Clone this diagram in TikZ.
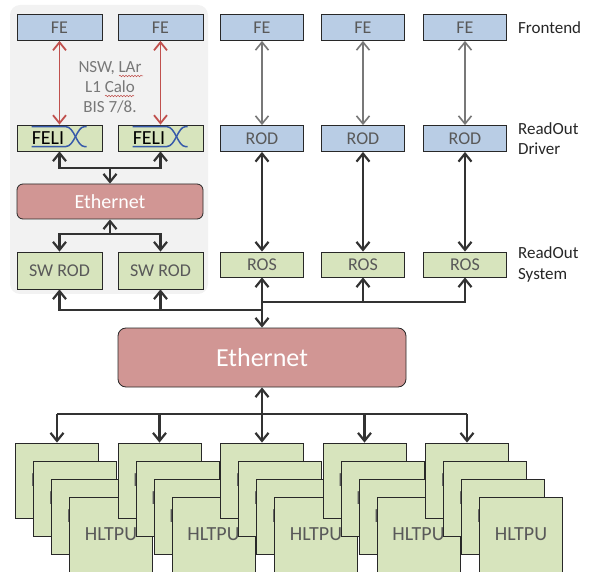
\documentclass[tikz,border=0pt]{standalone}
\usepackage{fontspec}
\setmainfont{Carlito}
\usetikzlibrary{arrows.meta, positioning, decorations.pathmorphing}

\definecolor{feblue}{RGB}{185,205,229}
\definecolor{rosgreen}{RGB}{215,228,189}
\definecolor{ethpink}{RGB}{209,150,148}
\definecolor{bggray}{RGB}{242,242,242}
\definecolor{boxline}{RGB}{40,40,40}
\definecolor{txtgray}{RGB}{89,89,89}
\definecolor{darkline}{RGB}{50,50,50}
\definecolor{midline}{RGB}{120,120,120}
\definecolor{redline}{RGB}{192,80,77}
\definecolor{felixblue}{RGB}{55,90,170}

\begin{document}
\begin{tikzpicture}[
    x=1pt, y=-1pt,
    >={Straight Barb[length=8pt, width=13pt]},
    box/.style={rectangle, draw=boxline, line width=0.8pt, text=txtgray, inner sep=0pt, font=\fontsize{18}{20}\selectfont},
    blubox/.style={box, fill=feblue, minimum width=83, minimum height=26},
    grnbox/.style={box, fill=rosgreen},
    ethbox/.style={rectangle, draw=boxline, line width=0.8pt, fill=ethpink, text=white, rounded corners=6pt},
    hltbox/.style={grnbox, minimum width=83, minimum height=75, font=\fontsize{20}{24}\selectfont},
    lbl/.style={align=left, text=black!85, inner sep=0pt, font=\fontsize{17}{20.5}\selectfont},
    dkline/.style={draw=darkline, line width=2.2pt},
    dkarrow/.style={dkline, <->},
    gyarrow/.style={draw=midline, line width=1.6pt, <->},
    rdarrow/.style={draw=redline, line width=1.8pt, <->}
]
\useasboundingbox (0,0) rectangle (592,572);

% Grey region for the new readout
\fill[bggray, rounded corners=10pt] (10,5) rectangle (208,294);

% Frontends
\node[blubox, minimum width=85] (feA) at (59.5,27.5) {FE};
\node[blubox, minimum width=85] (feB) at (160.5,27.5) {FE};
\node[blubox] (fe1) at (262,27.5) {FE};
\node[blubox] (fe2) at (363,27.5) {FE};
\node[blubox] (fe3) at (465,27.5) {FE};

% FELIX and ROD
\node[grnbox, minimum width=85, minimum height=26] (felA) at (59.5,138) {};
\node[grnbox, minimum width=85, minimum height=26] (felB) at (160.5,138) {};
\node[blubox] (rod1) at (262,138.5) {ROD};
\node[blubox] (rod2) at (363,138.5) {ROD};
\node[blubox] (rod3) at (465,138.5) {ROD};

\foreach \f in {felA,felB}{
  \begin{scope}[shift={(\f.north west)}]
    \draw[felixblue, line width=1.5pt] (15,2) -- (49,2) .. controls (58,2) and (60,22) .. (68,22) -- (70,22);
    \draw[felixblue, line width=1.5pt] (15,22) -- (49,22) .. controls (58,22) and (60,2) .. (68,2) -- (70,2);
    \node[anchor=base west, inner sep=0pt, font=\fontsize{20}{22}\selectfont] (\f-txt) at (15,19.5) {FELI};
  \end{scope}
}

% Note
\node[align=center, text=midline, font=\fontsize{17}{20}\selectfont] (note) at (110,87) {NSW, LAr\\L1 Calo\\BIS 7/8.};
\draw[redline, line width=0.5pt, decorate, decoration={snake, amplitude=0.8pt, segment length=3pt}] (119,76) -- (143,76);
\draw[redline, line width=0.5pt, decorate, decoration={snake, amplitude=0.8pt, segment length=3pt}] (105,96) -- (134,96);

% Ethernet and readout
\node[ethbox, minimum width=186, minimum height=35, font=\fontsize{20}{24}\selectfont] (ethA) at (110,201.5) {Ethernet};
\node[grnbox, minimum width=85, minimum height=37] (swA) at (59.5,270.5) {SW ROD};
\node[grnbox, minimum width=85, minimum height=37] (swB) at (160.5,270.5) {SW ROD};
\node[grnbox, minimum width=83, minimum height=25] (ros1) at (262,264.5) {ROS};
\node[grnbox, minimum width=83, minimum height=25] (ros2) at (363,264.5) {ROS};
\node[grnbox, minimum width=83, minimum height=25] (ros3) at (465,264.5) {ROS};

\node[ethbox, minimum width=288, minimum height=59, rounded corners=8pt, font=\fontsize{26}{30}\selectfont] (ethB) at (262,357.5) {Ethernet};

% Labels
\node[lbl, anchor=west, right=11pt of fe3] (lfe) {Frontend};
\node[lbl, anchor=west, right=11pt of rod3] (lrod) {ReadOut\\Driver};
\node[lbl, anchor=west, right=11pt of ros3] (lros) {ReadOut\\System};

% HLTPU farm
\foreach \i in {1,...,5}{
  \foreach \k in {0,...,3}{
    \node[hltbox] (hlt\i\k) at ({57+102.5*(\i-1)+18*\k},{480.5+18*\k}) {HLTPU};
  }
}

% Arrows
\draw[rdarrow] (feA) -- (felA);
\draw[rdarrow] (feB) -- (felB);
\draw[gyarrow] (fe1) -- (rod1);
\draw[gyarrow] (fe2) -- (rod2);
\draw[gyarrow] (fe3) -- (rod3);
\draw[dkarrow] (rod1) -- (ros1);
\draw[dkarrow] (rod2) -- (ros2);
\draw[dkarrow] (rod3) -- (ros3);

\coordinate (jfel) at (110,168);
\draw[dkarrow] (felA.south) |- (jfel) -| (felB.south);
\draw[dkline, ->] (jfel) -- (ethA.north);

\coordinate (jsw) at (110,234);
\draw[dkline, ->] (jsw) -- (ethA.south);
\draw[dkarrow] (swA.north) |- (jsw) -| (swB.north);

\coordinate (jros) at (262,302);
\coordinate (jswr) at (262,310);
\draw[dkarrow] (ros1.south) -- (ethB.north);
\draw[dkline, <-] (ros3.south) |- (jros);
\draw[dkline, <-] (ros2.south) -- (ros2.south |- jros);
\draw[dkline, <-] (swA.south) |- (jswr);
\draw[dkline, <-] (swB.south) -- (swB.south |- jswr);

\coordinate (jhlt) at (262,414);
\draw[dkline, ->] (jhlt) -- (ethB.south);
\draw[dkline] (jhlt -| hlt10.north) -- (jhlt -| hlt50.north);
\foreach \i in {1,...,5}{
  \draw[dkline, ->] (jhlt -| hlt\i0.north) -- (hlt\i0.north);
}

\end{tikzpicture}
\end{document}
